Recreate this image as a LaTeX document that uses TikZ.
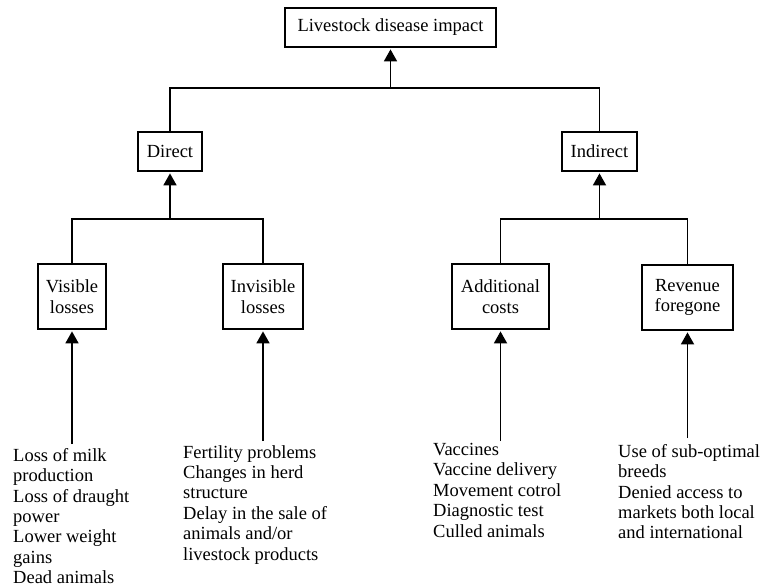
\documentclass[tikz,border=0pt]{standalone}
\usepackage{fontspec}
\setmainfont{Liberation Serif}
\usetikzlibrary{arrows.meta}
\begin{document}
\begin{tikzpicture}[x=1pt,y=-1pt,font=\fontsize{18.5}{20.4}\selectfont]
    % Define styles for boxes, lists and arrows
    \tikzstyle{box}=[rectangle, draw, line width=1.8pt, align=center, inner sep=0pt]
    \tikzstyle{list}=[anchor=north west, align=left, inner sep=0pt]
    \tikzstyle{arr}=[line width=1.8pt, -{Triangle[width=13pt,length=12pt]}, shorten >=1.5pt]
    \tikzstyle{link}=[line width=1.8pt]

    \useasboundingbox (0,0) rectangle (760,588);

    % Top
    \node[box, minimum width=211pt, minimum height=39pt] (impact) at (390.5,27.5) {Livestock disease impact};

    % Direct / Indirect
    \node[box, minimum width=64pt, minimum height=39pt] (direct) at (170,151.5) {Direct};
    \node[box, minimum width=75pt, minimum height=39pt] (indirect) at (599.5,151.5) {Indirect};

    % Losses and costs
    \node[box, minimum width=68pt, minimum height=65pt] (visible) at (72,296.5) {Visible\\losses};
    \node[box, minimum width=80pt, minimum height=65pt] (invisible) at (263,296.5) {Invisible\\losses};
    \node[box, minimum width=97pt, minimum height=65pt] (additional) at (500.5,296.5) {Additional\\costs};
    \node[box, minimum width=91pt, minimum height=65pt] (revenue) at (687.5,297.5) {Revenue\\foregone};

    % Lists
    \node[list] (visiblelist) at (13,448) {Loss of milk\\production\\Loss of draught\\power\\Lower weight\\gains\\Dead animals};
    \node[list] (invisiblelist) at (183,445) {Fertility problems\\Changes in herd\\structure\\Delay in the sale of\\animals and/or\\livestock products};
    \node[list] (additionallist) at (433,443) {Vaccines\\Vaccine delivery\\Movement cotrol\\Diagnostic test\\Culled animals};
    \node[list] (revenuelist) at (618,444) {Use of sub-optimal\\breeds\\Denied access to\\markets both local\\and international};

    % Connectors
    \draw[link] (direct.north) |- ([yshift=-40pt]impact.south) -| (indirect.north);
    \draw[arr] ([yshift=-40pt]impact.south) -- (impact.south);

    \draw[link] (visible.north) |- ([yshift=-47pt]direct.south) -| (invisible.north);
    \draw[arr] ([yshift=-47pt]direct.south) -- (direct.south);

    \draw[link] (additional.north) |- ([yshift=-47pt]indirect.south) -| (revenue.north);
    \draw[arr] ([yshift=-47pt]indirect.south) -- (indirect.south);

    \draw[arr] ([yshift=4pt]visiblelist.north -| visible.south) -- (visible.south);
    \draw[arr] ([yshift=4pt]invisiblelist.north -| invisible.south) -- (invisible.south);
    \draw[arr] ([yshift=2pt]additionallist.north -| additional.south) -- (additional.south);
    \draw[arr] ([yshift=6pt]revenuelist.north -| revenue.south) -- (revenue.south);

\end{tikzpicture}
\end{document}
